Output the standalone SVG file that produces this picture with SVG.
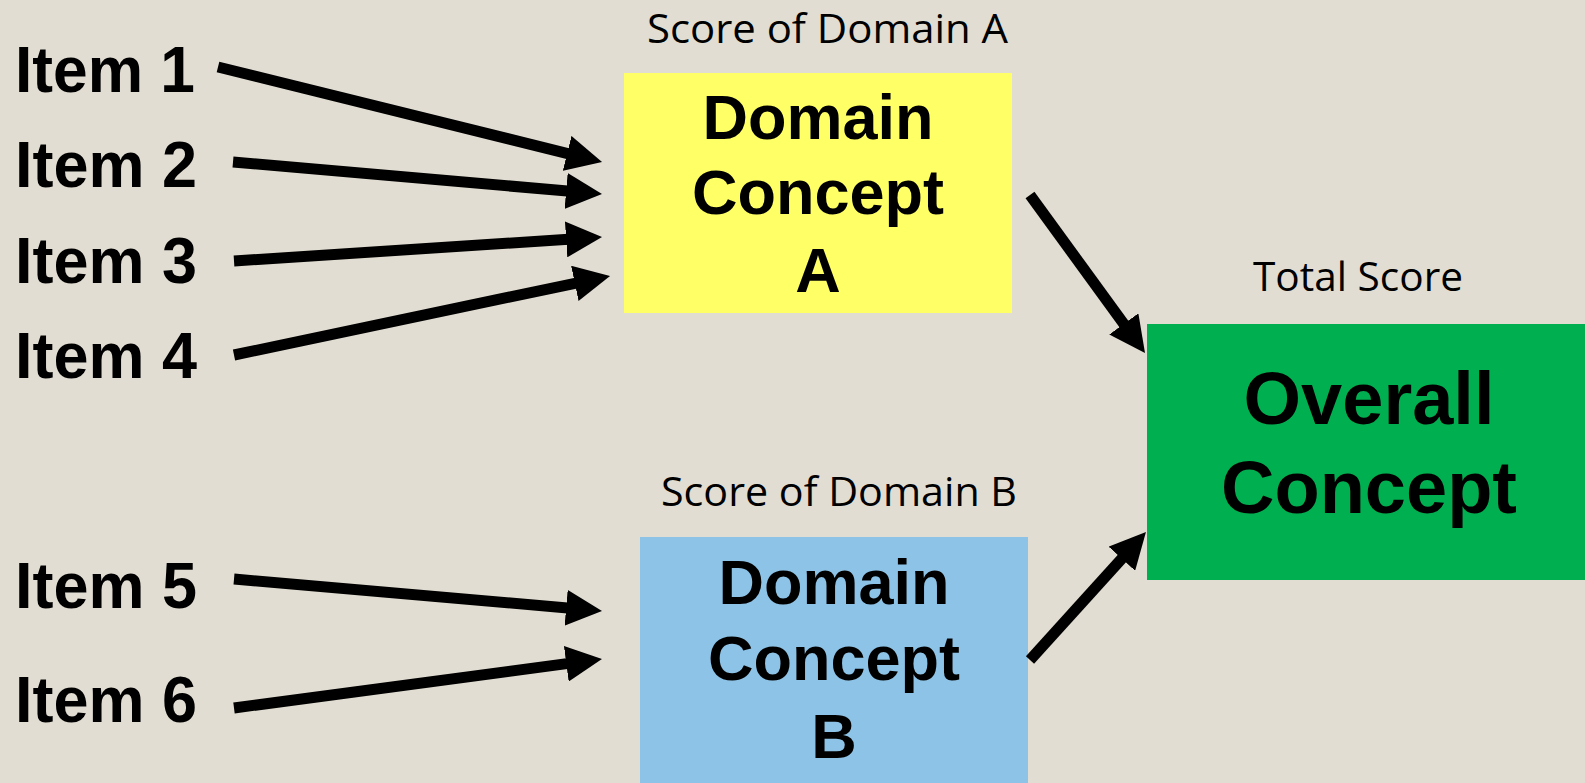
<svg xmlns="http://www.w3.org/2000/svg" width="1585" height="783" viewBox="0 0 1585 783">
<style>
.item{font-family:"Liberation Sans",Arial,sans-serif;font-weight:bold;font-size:65px;fill:#000}
.box{font-family:"Liberation Sans",Arial,sans-serif;font-weight:bold;font-size:63px;fill:#000;text-anchor:middle}
.big{font-family:"Liberation Sans",Arial,sans-serif;font-weight:bold;font-size:74px;fill:#000;text-anchor:middle}
.lbl{font-family:"Open Sans","Noto Sans",sans-serif;font-size:41px;fill:#000}
.arr{stroke:#000;stroke-width:11;fill:none;marker-end:url(#ah)}
</style>
<defs>
<marker id="ah" markerUnits="userSpaceOnUse" markerWidth="36" markerHeight="36" refX="10" refY="18" orient="auto" viewBox="0 0 36 36">
<path d="M0,0 L36,18 L0,36 z" fill="#000"/>
</marker>
</defs>
<rect width="1585" height="783" fill="#E2DDD2"/>
<g id="item1"><text class="item" x="15" y="92" textLength="180" lengthAdjust="spacingAndGlyphs">Item 1</text></g>
<g id="item2"><text class="item" x="15" y="187" textLength="182" lengthAdjust="spacingAndGlyphs">Item 2</text></g>
<g id="item3"><text class="item" x="15" y="283" textLength="182" lengthAdjust="spacingAndGlyphs">Item 3</text></g>
<g id="item4"><text class="item" x="15" y="378" textLength="182" lengthAdjust="spacingAndGlyphs">Item 4</text></g>
<g id="item5"><text class="item" x="15" y="608" textLength="182" lengthAdjust="spacingAndGlyphs">Item 5</text></g>
<g id="item6"><text class="item" x="15" y="722" textLength="182" lengthAdjust="spacingAndGlyphs">Item 6</text></g>
<g id="domainA">
<text class="lbl" x="647" y="43" textLength="361" lengthAdjust="spacingAndGlyphs">Score of Domain A</text>
<rect x="624" y="73" width="388" height="240" fill="#FFFF66"/>
<text class="box" x="818" y="139">Domain</text>
<text class="box" x="818" y="214">Concept</text>
<text class="box" x="818" y="292">A</text>
</g>
<g id="domainB">
<text class="lbl" x="661" y="506" textLength="356" lengthAdjust="spacingAndGlyphs">Score of Domain B</text>
<rect x="640" y="537" width="388" height="246" fill="#8DC3E6"/>
<text class="box" x="834" y="604">Domain</text>
<text class="box" x="834" y="680">Concept</text>
<text class="box" x="834" y="758">B</text>
</g>
<g id="overall">
<text class="lbl" x="1253" y="291" textLength="210" lengthAdjust="spacingAndGlyphs">Total Score</text>
<rect x="1147" y="324" width="438" height="256" fill="#00B050"/>
<text class="big" x="1369" y="424">Overall</text>
<text class="big" x="1369" y="513">Concept</text>
</g>
<g id="connectors">
<line class="arr" x1="218" y1="67" x2="576.8" y2="155.8"/>
<line class="arr" x1="233" y1="162" x2="576.1" y2="191.8"/>
<line class="arr" x1="234" y1="261" x2="576.1" y2="238.7"/>
<line class="arr" x1="234" y1="355" x2="584.6" y2="281.3"/>
<line class="arr" x1="234" y1="579" x2="576.1" y2="608.7"/>
<line class="arr" x1="234" y1="708" x2="576.2" y2="662.4"/>
<line class="arr" x1="1030" y1="195" x2="1129.7" y2="332"/>
<line class="arr" x1="1030" y1="660" x2="1128.5" y2="551.3"/>
</g>
</svg>
